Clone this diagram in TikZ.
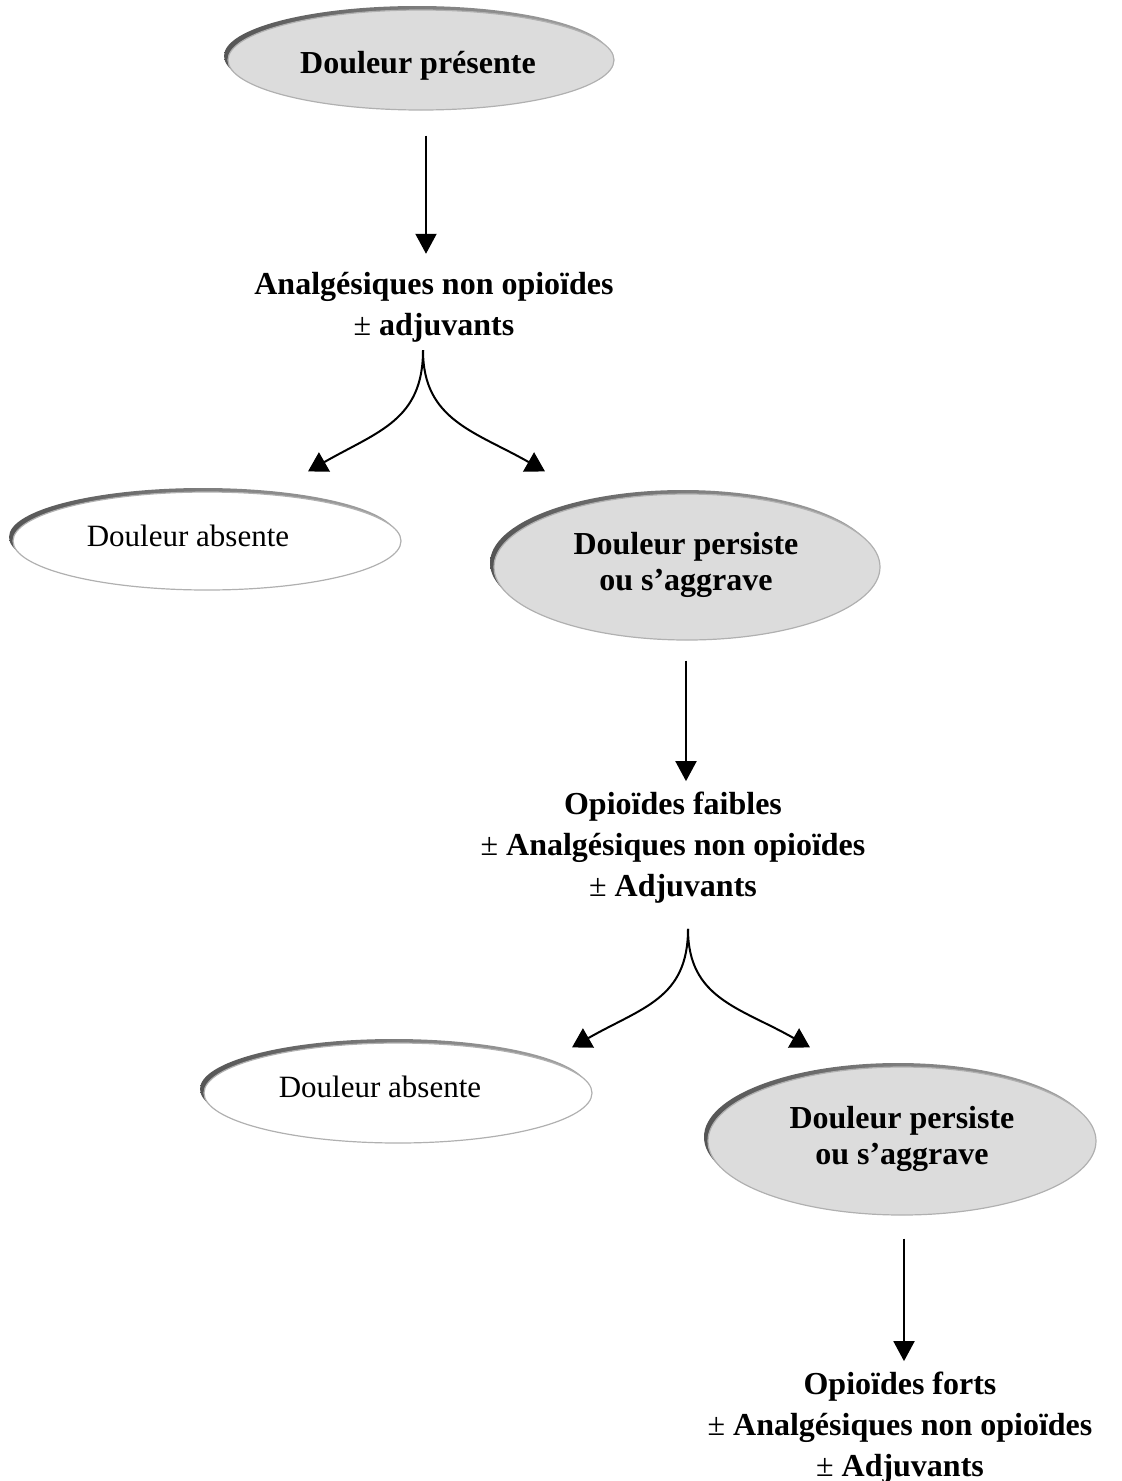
\documentclass[tikz,border=0pt]{standalone}
\usepackage{fontspec}
\setmainfont{Liberation Serif}
\usetikzlibrary{arrows.meta,shapes.geometric,shadows}
\definecolor{ovalgray}{HTML}{DCDCDC}
\definecolor{ovalrim}{HTML}{B0B0B0}
\definecolor{shadowdark}{HTML}{555555}
\definecolor{shadowlight}{HTML}{A5A5A5}
\begin{document}
\begin{tikzpicture}[x=1pt,y=-1pt,
  oval/.style={ellipse, inner sep=0pt, draw=ovalrim, line width=1.2pt,
    general shadow={shadow xshift=-4pt, shadow yshift=4pt,
      left color=shadowdark, right color=shadowlight, draw=none}},
  grayoval/.style={oval, fill=ovalgray},
  whiteoval/.style={oval, fill=white},
  stagetext/.style={font=\fontsize{32}{41}\selectfont\bfseries, align=center, inner sep=0pt},
  ovaltext/.style={font=\fontsize{32}{36}\selectfont\bfseries, align=center, inner sep=0pt},
  plaintext/.style={font=\fontsize{31}{36}\selectfont, inner sep=0pt},
  arr/.style={line width=2pt, -{Triangle[length=20pt,width=21pt]}},
  forkarr/.style={line width=2pt, -{Triangle[length=19pt,width=22pt]}},
]
\useasboundingbox (0,0) rectangle (1122,1481);

% --- ovals ---
\node[grayoval, minimum width=386pt, minimum height=100pt] (pres) at (421,60) {};
\node[ovaltext] (presT) at (418,66) {Douleur présente};

\node[whiteoval, minimum width=388pt, minimum height=98pt] (abs1) at (207,541) {};
\node[plaintext] (abs1T) at (188,536) {Douleur absente};

\node[grayoval, minimum width=386pt, minimum height=146pt] (pers1) at (687,567) {};
\node[ovaltext] (pers1T) at (686,565) {Douleur persiste\\ou s’aggrave};

\node[whiteoval, minimum width=388pt, minimum height=100pt] (abs2) at (398,1093) {};
\node[plaintext] (abs2T) at (380,1087) {Douleur absente};

\node[grayoval, minimum width=388pt, minimum height=148pt] (pers2) at (902,1141) {};
\node[ovaltext] (pers2T) at (902,1139) {Douleur persiste\\ou s’aggrave};

% --- treatment steps ---
\node[stagetext] (anal) at (434,307) {Analgésiques non opioïdes\\{\mdseries ±} adjuvants};
\node[stagetext] (faib) at (673,848) {Opioïdes faibles\\{\mdseries ±} Analgésiques non opioïdes\\{\mdseries ±} Adjuvants};
\node[stagetext] (fort) at (900,1428) {Opioïdes forts\\{\mdseries ±} Analgésiques non opioïdes\\{\mdseries ±} Adjuvants};

% --- straight arrows ---
\draw[arr] ([xshift=5pt,yshift=-25pt]pres.south) -- ([xshift=-8pt,yshift=18pt]anal.north);
\draw[arr] ([xshift=-1pt,yshift=-20pt]pers1.south) -- ([xshift=13pt,yshift=11pt]faib.north);
\draw[arr] ([xshift=2pt,yshift=-23pt]pers2.south) -- ([xshift=4pt,yshift=11pt]fort.north);

% --- forks ---
\coordinate (fork1) at ([xshift=-11pt,yshift=-8pt]anal.south);
\draw[forkarr] (fork1) .. controls +(0,70) and +(70,-40) .. ([xshift=101pt,yshift=20pt]abs1.north);
\draw[forkarr] (fork1) .. controls +(0,70) and +(-70,-40) .. ([xshift=-142pt,yshift=22pt]pers1.north);

\coordinate (fork2) at ([xshift=15pt,yshift=-25pt]faib.south);
\draw[forkarr] (fork2) .. controls +(0,70) and +(70,-40) .. ([xshift=174pt,yshift=-5pt]abs2.north);
\draw[forkarr] (fork2) .. controls +(0,70) and +(-70,-40) .. ([xshift=-92pt,yshift=19pt]pers2.north);
\end{tikzpicture}
\end{document}
